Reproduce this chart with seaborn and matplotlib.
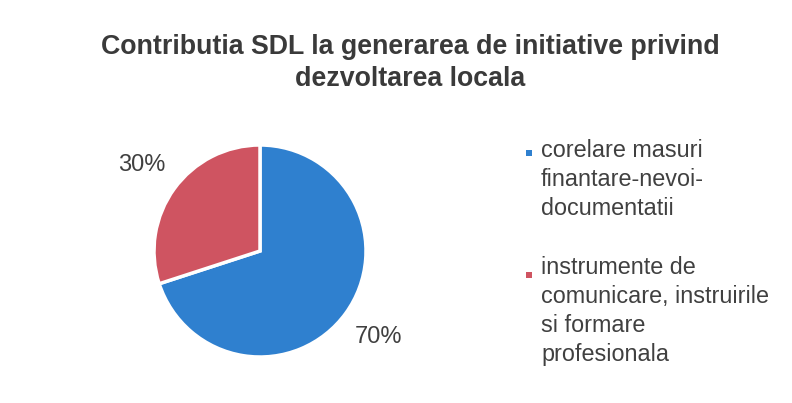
import matplotlib
matplotlib.use("Agg")
import matplotlib.pyplot as plt
from matplotlib.patches import Rectangle
import seaborn as sns

# data
categories = ["corelare masuri\nfinantare-nevoi-\ndocumentatii",
              "instrumente de\ncomunicare, instruirile\nsi formare\nprofesionala"]
values = [70, 30]
colors = ["#2F80CF", "#CF5461"]
title = "Contributia SDL la generarea de initiative privind\ndezvoltarea locala"

sns.set_theme(style="white")
plt.rcParams["font.family"] = ["Liberation Sans", "DejaVu Sans"]
text_color = "#404040"

W, H = 792, 403
fig = plt.figure(figsize=(W / 100, H / 100), dpi=100)
fig.patch.set_facecolor("white")

# pie axes: center (260, 251), radius 106 px
cx, cy, r = 260, 251, 106
ax = fig.add_axes([(cx - r) / W, (H - cy - r) / H, 2 * r / W, 2 * r / H])
wedges, texts, autotexts = ax.pie(
    values, colors=colors, startangle=90, counterclock=False,
    autopct="%d%%", pctdistance=1.38,
    wedgeprops=dict(edgecolor="white", linewidth=2.5),
    textprops=dict(color=text_color, fontsize=17),
)
ax.set_xlim(-1, 1)
ax.set_ylim(-1, 1)
ax.set_aspect("equal")

# va="baseline" on multi-line text aligns the last line
fig.text(410 / W, 1 - 86 / H, title, ha="center", va="baseline",
         fontsize=19.3, fontweight="bold", color="#3a3a3a", linespacing=1.3)

# legend drawn by hand so the marker sits on the first line
line_px = 25.9
legend_rows = [(153, 163), (275, 283)]
for (my, by), lab, col in zip(legend_rows, categories, colors):
    n = lab.count("\n")
    fig.add_artist(Rectangle(((529 - 3) / W, 1 - (my + 3) / H), 6 / W, 6 / H,
                             transform=fig.transFigure, facecolor=col,
                             edgecolor="none"))
    fig.text(541 / W, 1 - (by + n * line_px) / H, lab, ha="left", va="baseline",
             fontsize=16.8, color=text_color, linespacing=1.33)

fig.savefig("out.png", dpi=100)
